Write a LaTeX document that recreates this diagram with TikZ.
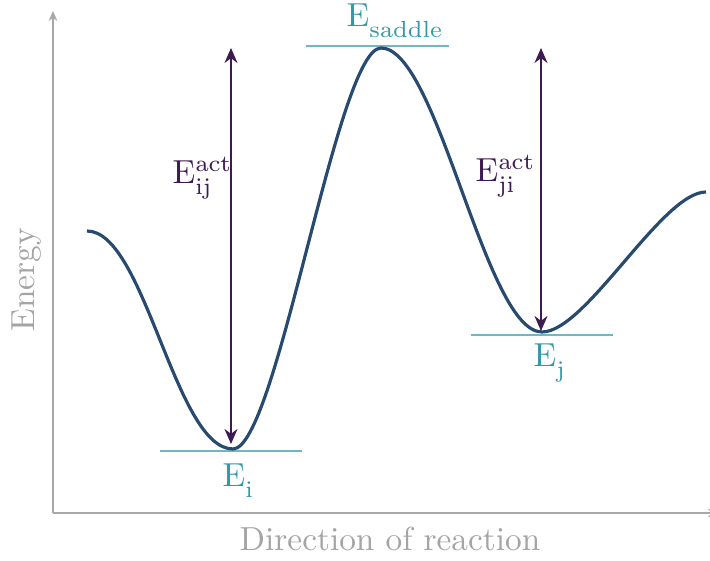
\documentclass[tikz,border=0pt]{standalone}
\usetikzlibrary{arrows.meta}
\definecolor{axisgray}{HTML}{A8A8A8}
\definecolor{labelgray}{HTML}{A4A4A4}
\definecolor{curveblue}{HTML}{284A6E}
\definecolor{tealtext}{HTML}{3399A8}
\definecolor{tealline}{HTML}{6DB8C2}
\definecolor{actpurple}{HTML}{3D1A52}
\newcommand{\lowsub}[2]{\raisebox{#1}{$\scriptstyle\mathrm{#2}$}}
\tikzset{
  axisline/.style={draw=axisgray, line width=0.6pt, -{Stealth[length=3pt,width=2.6pt]}},
  axislabel/.style={text=labelgray, inner sep=0pt},
  energycurve/.style={draw=curveblue, line width=0.95pt},
  levelline/.style={draw=tealline, line width=0.4pt},
  levellabel/.style={text=tealtext, inner sep=0pt, anchor=base west},
  actarrow/.style={draw=actpurple, line width=0.55pt, {Stealth[length=4.5pt,width=3.9pt]}-{Stealth[length=4.5pt,width=3.9pt]}},
  actlabel/.style={text=actpurple, inner sep=0pt, anchor=base west}
}
\begin{document}
\begin{tikzpicture}[x=0.3pt, y=-0.3pt]
\useasboundingbox (0,0) rectangle (710,561);
\clip (0,0) rectangle (710,561);
% axes
\coordinate (origin) at (53,513);
\coordinate (ytop) at (53,11);
\coordinate (xend) at (718,513);
\draw[axisline] (origin) -- (ytop);
\draw[axisline] (origin) -- (xend);
\node[axislabel, rotate=90] (ylab) at (27,280) {Energy};
\node[axislabel, anchor=base] (xlab) at (390,551) {Direction of reaction};
% level lines
\coordinate (li1) at (160,451); \coordinate (li2) at (302,451);
\coordinate (ls1) at (306,46);  \coordinate (ls2) at (449,46);
\coordinate (lj1) at (471,335); \coordinate (lj2) at (613,335);
\draw[levelline] (li1) -- (li2);
\draw[levelline] (ls1) -- (ls2);
\draw[levelline] (lj1) -- (lj2);
% energy curve
\coordinate (c0) at (87,231);
\coordinate (cmin1) at (233,449);
\coordinate (cmax) at (381,48);
\coordinate (cmin2) at (542,332);
\coordinate (cend) at (706,192);
\draw[energycurve] (c0)
  .. controls (145,231) and (175,449) .. (cmin1)
  .. controls (277,449) and (337,48) .. (cmax)
  .. controls (438,48) and (485,332) .. (cmin2)
  .. controls (586,332) and (662,192) .. (cend);
% activation arrows
\coordinate (ai1) at (231,48); \coordinate (ai2) at (231,444);
\coordinate (aj1) at (541,48); \coordinate (aj2) at (541,331);
\draw[actarrow] (ai1) -- (ai2);
\draw[actarrow] (aj1) -- (aj2);
% labels
\node[levellabel] (Esad) at (346,27) {$\mathrm{E}_{\lowsub{-1.6pt}{saddle}}$};
\node[levellabel] (Ei) at (222,487) {$\mathrm{E}_{\lowsub{-1.6pt}{i}}$};
\node[levellabel] (Ej) at (533,367) {$\mathrm{E}_{\lowsub{-1.6pt}{j}}$};
\node[actlabel] (Eij) at (172,184) {$\mathrm{E}^{\mathrm{act}}_{\lowsub{-0.8pt}{ij}}$};
\node[actlabel] (Eji) at (475,182) {$\mathrm{E}^{\mathrm{act}}_{\lowsub{-0.8pt}{ji}}$};
\end{tikzpicture}
\end{document}
